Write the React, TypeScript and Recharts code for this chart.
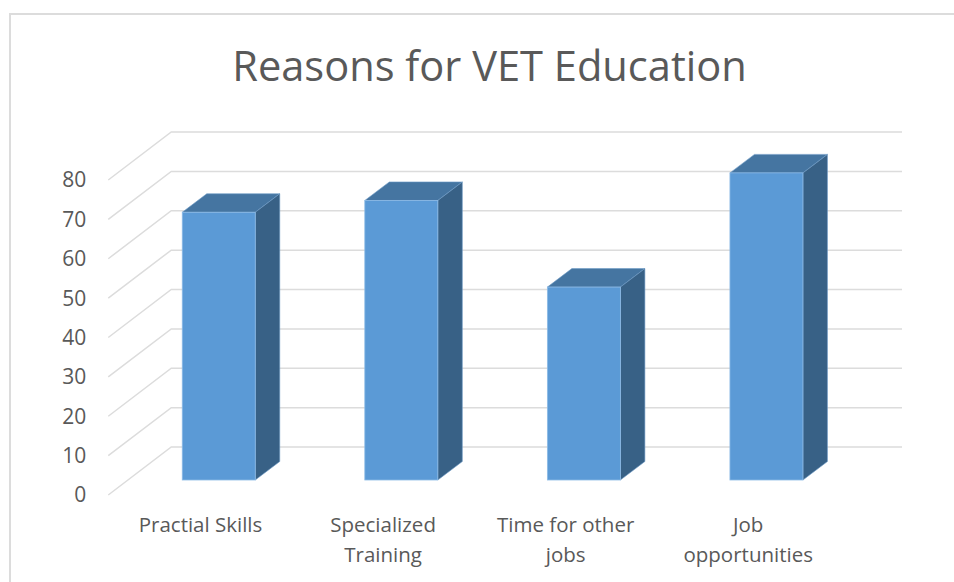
import { BarChart, Bar, XAxis, YAxis, CartesianGrid } from 'recharts'

const categories = ['Practial Skills', 'Specialized Training', 'Time for other jobs', 'Job opportunities']
const values = [68, 71, 49, 78]
const yTicks = [0, 10, 20, 30, 40, 50, 60, 70, 80]
// line breaks of the category labels
const tickLines: Record<string, string[]> = {
  'Practial Skills': ['Practial Skills'],
  'Specialized Training': ['Specialized', 'Training'],
  'Time for other jobs': ['Time for other', 'jobs'],
  'Job opportunities': ['Job', 'opportunities'],
}

const chartData = categories.map((name, i) => ({ name, value: values[i] }))

const FONT = '"Open Sans", sans-serif'
const TEXT = '#595959'
const GRID = '#dcdcdc'

// depth of the box around the plot and of each column
const WALL_DX = 63
const WALL_DY = 48
const FRONT_DROP = 15
const BAR_DX = 24.5
const BAR_DY = 18.5

// gridline drawn as floor/side edge plus the line along the back wall
function WallLine(props: any) {
  const { y1, x1, x2 } = props
  const frontX = x1 - 19
  const backX = frontX + WALL_DX
  const frontY = y1 + FRONT_DROP
  const backY = frontY - WALL_DY
  return (
    <polyline
      key={`wall-${y1}`}
      points={`${frontX},${frontY} ${backX},${backY} ${x2 + 44.5},${backY}`}
      fill="none"
      stroke={GRID}
      strokeWidth={1.5}
    />
  )
}

function Column3D(props: any) {
  const { x, y, width, height } = props
  const r = x + width
  const b = y + height
  return (
    <g>
      <polygon
        points={`${x},${y} ${x + BAR_DX},${y - BAR_DY} ${r + BAR_DX},${y - BAR_DY} ${r},${y}`}
        fill="#4575a1"
        stroke="#6d9ac6"
        strokeWidth={0.6}
      />
      <polygon
        points={`${r},${y} ${r + BAR_DX},${y - BAR_DY} ${r + BAR_DX},${b - BAR_DY} ${r},${b}`}
        fill="#386186"
        stroke="#6d9ac6"
        strokeWidth={0.6}
      />
      <rect x={x} y={y} width={width} height={height} fill="#5b9ad6" stroke="#8dbbe6" strokeWidth={0.8} />
    </g>
  )
}

function CategoryTick(props: any) {
  const { x, payload } = props
  const lines = tickLines[payload.value] ?? [payload.value]
  return (
    <text x={x - 18} fontFamily={FONT} fontSize={20.5} fill={TEXT} textAnchor="middle">
      {lines.map((line, i) => (
        <tspan key={line} x={x - 18} y={532 + i * 30}>
          {line}
        </tspan>
      ))}
    </text>
  )
}

export default function App() {
  return (
    <div style={{ position: 'absolute', left: 0, top: 0, width: 954, height: 582, overflow: 'hidden', background: '#fff' }}>
      {/* chart frame runs past the right and bottom edges */}
      <div
        style={{
          position: 'absolute',
          left: 9,
          top: 13,
          width: 980,
          height: 600,
          border: `2px solid ${GRID}`,
        }}
      />
      <div style={{ position: 'absolute', left: 0, top: 0 }}>
        <BarChart
          width={954}
          height={582}
          data={chartData}
          margin={{ top: 165, right: 96.5, bottom: 0, left: 67.25 }}
        >
          <CartesianGrid vertical={false} horizontal={WallLine} />
          <XAxis dataKey="name" axisLine={false} tickLine={false} tick={CategoryTick} interval={0} height={102} />
          <YAxis
            width={60}
            domain={[0, 80]}
            ticks={yTicks}
            interval={0}
            axisLine={false}
            tickLine={false}
            tickSize={0}
            tickMargin={41}
            dy={15}
            tick={{ fontFamily: FONT, fontSize: 21, fill: TEXT }}
          />
          <Bar dataKey="value" barSize={73} shape={Column3D} isAnimationActive={false} />
          <text x={489.5} y={81} textAnchor="middle" fontFamily={FONT} fontSize={41.6} fill={TEXT}>
            Reasons for VET Education
          </text>
        </BarChart>
      </div>
    </div>
  )
}
